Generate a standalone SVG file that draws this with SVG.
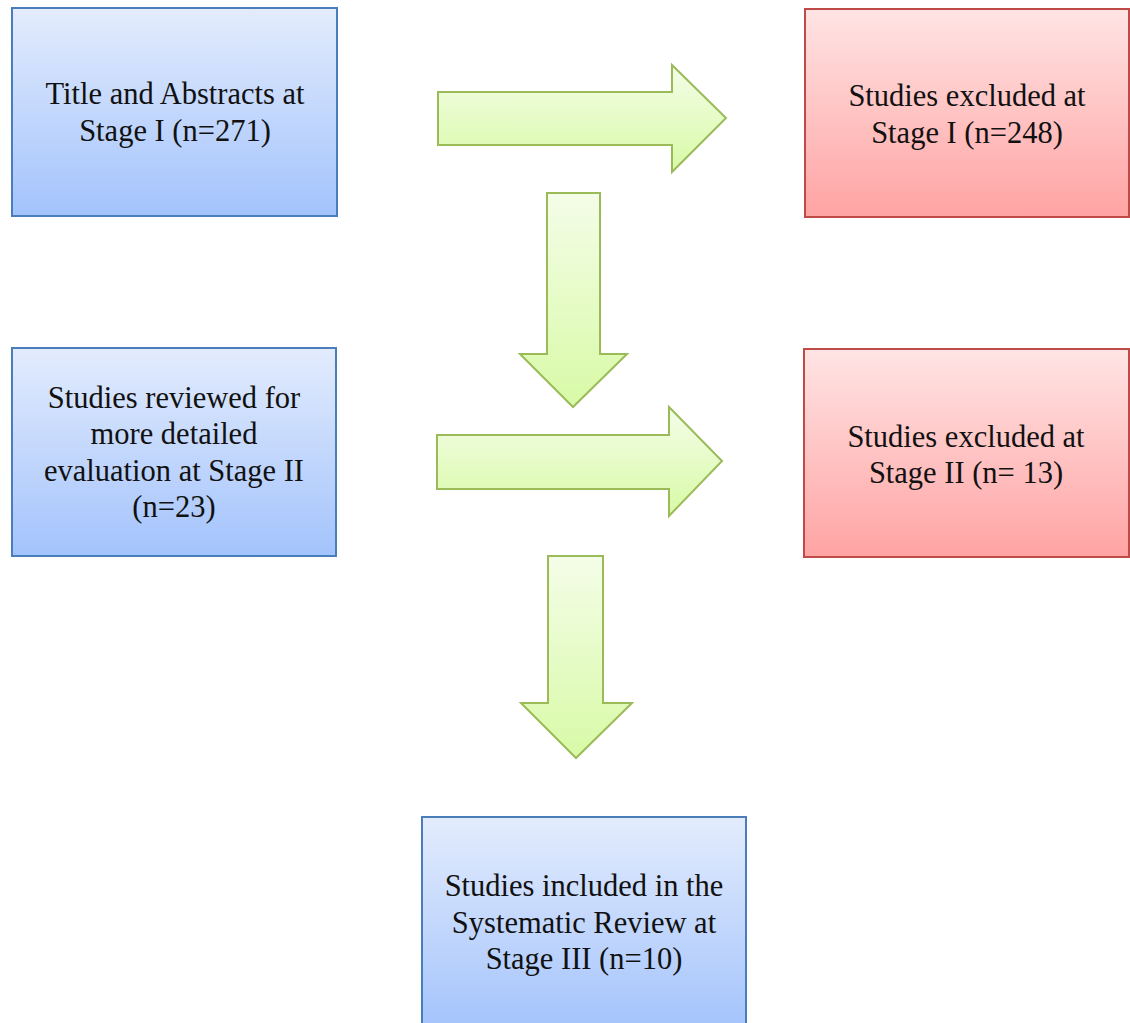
<svg xmlns="http://www.w3.org/2000/svg" width="1130" height="1023" viewBox="0 0 1130 1023">
<defs>
<linearGradient id="gBlue" x1="0" y1="0" x2="0" y2="1">
<stop offset="0" stop-color="#e3ecfd"/><stop offset="1" stop-color="#a3c3fc"/>
</linearGradient>
<linearGradient id="gRed" x1="0" y1="0" x2="0" y2="1">
<stop offset="0" stop-color="#ffe4e4"/><stop offset="1" stop-color="#ffa3a3"/>
</linearGradient>
<linearGradient id="gGreen" x1="0" y1="0" x2="0" y2="1">
<stop offset="0" stop-color="#f4fde8"/><stop offset="1" stop-color="#d8faa6"/>
</linearGradient>
<style>
.blue{fill:url(#gBlue);stroke:#4a7ebb;stroke-width:2}
.red{fill:url(#gRed);stroke:#be4b48;stroke-width:2}
.arrow{fill:url(#gGreen);stroke:#9bbb59;stroke-width:2;stroke-linejoin:miter}
text{font-family:"Liberation Serif","Times New Roman",serif;font-size:30.5px;fill:#111;text-anchor:middle}
</style>
</defs>
<g id="connectors">
<polygon class="arrow" points="438,92 672,92 672,65 726,118 672,172 672,145 438,145"/>
<polygon class="arrow" points="547,193 600,193 600,354 627,354 573,407 520,354 547,354"/>
<polygon class="arrow" points="437,435 669,435 669,407 722,461 669,516 669,489 437,489"/>
<polygon class="arrow" points="548,556 603,556 603,703 632,703 576,758 521,703 548,703"/>
</g>
<g id="node-stage1">
<rect class="blue" x="12" y="8" width="325" height="208"/>
<text x="175" y="104">Title and Abstracts at</text>
<text x="175" y="141">Stage I (n=271)</text>
</g>
<g id="node-excluded1">
<rect class="red" x="805" y="9" width="324" height="208"/>
<text x="967" y="106">Studies excluded at</text>
<text x="967" y="143">Stage I (n=248)</text>
</g>
<g id="node-stage2">
<rect class="blue" x="12" y="348" width="324" height="208"/>
<text x="174" y="408">Studies reviewed for</text>
<text x="174" y="444">more detailed</text>
<text x="174" y="481">evaluation at Stage II</text>
<text x="174" y="517">(n=23)</text>
</g>
<g id="node-excluded2">
<rect class="red" x="804" y="349" width="325" height="208"/>
<text x="966" y="447">Studies excluded at</text>
<text x="966" y="483">Stage II (n= 13)</text>
</g>
<g id="node-stage3">
<rect class="blue" x="422" y="817" width="324" height="215"/>
<text x="584" y="896">Studies included in the</text>
<text x="584" y="933">Systematic Review at</text>
<text x="584" y="969">Stage III (n=10)</text>
</g>
</svg>
